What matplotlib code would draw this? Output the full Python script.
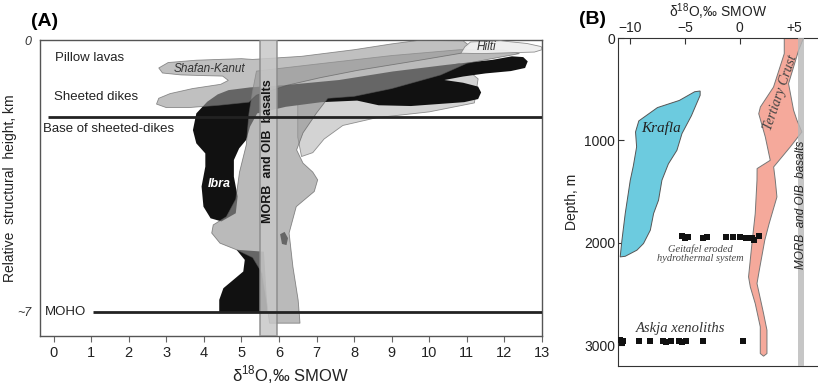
import matplotlib
matplotlib.use('Agg')
import matplotlib.pyplot as plt
from matplotlib.patches import Polygon

plt.rcParams['font.family'] = ['Liberation Sans', 'DejaVu Sans']
plt.rcParams['mathtext.fontset'] = 'custom'
plt.rcParams['mathtext.rm'] = 'Liberation Sans'

# ---------------- panel A data (d18O permil, relative height km) ----------------
morb_a = (5.5, 5.94)
base_dikes_y = 1.98
base_dikes_x0 = -0.14
moho_y = 7.0
moho_x0 = 1.05

ibra_upper = [(4.66, 1.29), (5.23, 1.22), (6.18, 1.16), (7.6, 1.03), (9.03, 0.81), (10.46, 0.64),
              (11.69, 0.51), (12.2, 0.42), (12.5, 0.44), (12.62, 0.55), (12.55, 0.72), (12.17, 0.8),
              (11.5, 0.86), (10.9, 0.94), (10.4, 1.03), (10.9, 1.1), (11.3, 1.2), (11.38, 1.35),
              (11.3, 1.52), (10.93, 1.6), (9.51, 1.7), (8.65, 1.68), (8.08, 1.56), (7.13, 1.6),
              (6.18, 1.72), (5.42, 1.89), (5.23, 2.23), (5.13, 2.57), (4.94, 2.79), (4.8, 3.09),
              (4.8, 3.52), (4.9, 4.03), (4.85, 4.46), (4.47, 4.67), (4.18, 4.59), (3.99, 4.29),
              (3.94, 3.77), (4.04, 3.26), (4.04, 2.92), (3.8, 2.66), (3.71, 2.32), (3.8, 1.89),
              (4.09, 1.59), (4.37, 1.4)]
ibra_lower = [(4.87, 5.4), (5.6, 5.45), (5.7, 7.01), (4.41, 7.01), (4.41, 6.69), (4.52, 6.39),
              (4.78, 6.18), (5.05, 5.96), (5.09, 5.66)]
ibra_blob = [(6.03, 5.0), (6.15, 4.94), (6.24, 5.1), (6.2, 5.28), (6.08, 5.25)]

light_wedge = [(6.5, 1.3), (8.0, 1.15), (9.5, 0.95), (10.8, 0.6), (11.3, 1.0), (11.2, 1.62),
               (10.0, 1.85), (8.6, 2.0), (7.7, 2.2), (7.2, 2.55), (6.9, 2.9), (6.6, 3.0), (6.5, 2.5)]

column = [(5.4, 0.8), (7.0, 0.62), (9.0, 0.4), (10.8, 0.25), (12.0, 0.26), (12.4, 0.35), (11.0, 0.6),
          (10.3, 0.9), (9.0, 1.25), (8.0, 1.45), (7.3, 1.5), (7.0, 1.88), (6.64, 2.39), (6.47, 2.83),
          (6.64, 3.17), (6.9, 3.4), (7.03, 3.6), (6.94, 3.9), (6.46, 4.29), (6.27, 4.97), (6.37, 5.83),
          (6.51, 6.69), (6.56, 7.29), (5.75, 7.29), (5.65, 6.6), (5.55, 6.0), (5.3, 5.6), (4.87, 5.4),
          (4.43, 5.23), (4.21, 4.97), (4.25, 4.76), (4.6, 4.55), (4.85, 4.1), (4.95, 3.4), (5.13, 2.7),
          (5.2, 1.9), (5.3, 1.3)]

shafan_kanut = [(2.8, 0.72), (3.05, 0.58), (3.8, 0.52), (5.0, 0.48), (5.3, 0.5), (6.6, 0.42), (8.0, 0.25),
                (9.0, 0.1), (9.7, 0.01), (10.9, 0.02), (11.05, 0.13), (10.85, 0.34), (9.5, 0.56),
                (8.1, 0.78), (7.1, 0.97), (6.2, 1.17), (5.4, 1.42), (5.2, 1.6), (4.4, 1.68), (3.6, 1.74),
                (3.0, 1.74), (2.74, 1.65), (2.8, 1.5), (3.1, 1.38), (3.7, 1.25), (4.45, 1.14), (4.65, 1.04),
                (4.5, 0.93), (3.4, 0.9), (2.9, 0.85)]

hilti = [(10.84, 0.34), (10.95, 0.17), (11.1, 0.05), (11.9, 0.02), (12.6, 0.09), (12.98, 0.17),
         (13.0, 0.25), (12.8, 0.31), (12.1, 0.33), (11.4, 0.35)]

# ---------------- panel B data (d18O permil, depth m) ----------------
morb_b = (5.3, 5.85)
krafla = [(-3.6, 518), (-4.1, 525), (-5.5, 610), (-7.5, 680), (-9.2, 810), (-9.5, 918), (-9.4, 1064),
          (-9.7, 1250), (-9.98, 1390), (-10.44, 1715), (-10.74, 1975), (-10.9, 2139), (-10.44, 2133),
          (-9.37, 2073), (-8.77, 2008), (-8.15, 1878), (-7.85, 1715), (-7.4, 1585), (-7.09, 1390),
          (-6.5, 1230), (-5.72, 1097), (-5.26, 934), (-4.4, 760), (-3.6, 560)]
tertiary = [(4.08, 0), (4.08, 153), (3.1, 479), (1.9, 674), (1.75, 740), (2.35, 967), (2.8, 1195),
            (1.6, 1276), (1.59, 1390), (1.43, 1715), (1.13, 2008), (0.82, 2334), (0.98, 2432),
            (1.43, 2595), (1.89, 2822), (1.89, 3083), (2.19, 3109), (2.5, 3083), (2.5, 2855),
            (2.19, 2692), (1.59, 2399), (1.8, 2269), (2.3, 1976), (2.7, 1813), (3.41, 1553),
            (3.26, 1390), (3.11, 1260), (4.63, 1064), (5.69, 918), (5.24, 804), (4.93, 706),
            (4.47, 446), (5.39, 120), (5.84, 0)]
geitafel_x = [-5.3, -5.0, -4.75, -3.3, -3.0, -1.2, -0.6, 0.05, 0.6, 1.1, 1.3, 1.75]
geitafel_y = [1930, 1950, 1940, 1955, 1940, 1945, 1945, 1945, 1950, 1955, 1975, 1935]
askja_x = [-10.9, -10.75, -10.6, -9.15, -8.2, -7.0, -6.7, -6.3, -5.5, -5.3, -4.9, -3.3, 0.3]
askja_y = [2955, 2985, 2965, 2965, 2965, 2965, 2975, 2965, 2960, 2970, 2965, 2965, 2960]

xticks_a = list(range(0, 14))
xticks_b = [-10, -5, 0, 5]
xticklabels_b = ['\u221210', '\u22125', '0', '+5']
yticks_b = [0, 1000, 2000, 3000]

xlabel = '\u03b4$^{18}$O,‰ SMOW'

fig = plt.figure(figsize=(8.18, 3.9), dpi=100)

# ================= panel A =================
ax = fig.add_axes([40 / 818, 54 / 390, 502 / 818, 296 / 390])
ax.set_xlim(-0.36, 13)
ax.set_ylim(7.62, 0)

ax.add_patch(Polygon(light_wedge, closed=True, fc='#c8c8c8', ec='#777777', lw=0.6, alpha=0.8, zorder=1))
ax.add_patch(Polygon(ibra_upper, closed=True, fc='#111111', ec='none', zorder=2))
ax.add_patch(Polygon(ibra_lower, closed=True, fc='#111111', ec='none', zorder=2))
ax.add_patch(Polygon(ibra_blob, closed=True, fc='#111111', ec='none', zorder=2))
ax.add_patch(Polygon(column, closed=True, fc='#959595', ec='#555555', lw=0.6, alpha=0.65, zorder=3))
ax.add_patch(Polygon(shafan_kanut, closed=True, fc='#9a9a9a', ec='#555555', lw=0.6, alpha=0.62, zorder=4))
ax.add_patch(Polygon(hilti, closed=True, fc='#eeeeee', ec='#888888', lw=0.6, alpha=0.95, zorder=5))

ax.axvspan(*morb_a, fc='#c8c8c8', ec='#8a8a8a', lw=1.2, alpha=0.85, zorder=6)
ax.text(sum(morb_a) / 2, 2.85, 'MORB  and OIB  basalts', rotation=90, ha='center', va='center',
        fontsize=9, fontweight='bold', color='#151515', zorder=7)

ax.plot([base_dikes_x0, 13], [base_dikes_y, base_dikes_y], color='#222222', lw=2, zorder=8,
        solid_capstyle='butt')
ax.plot([moho_x0, 13], [moho_y, moho_y], color='#222222', lw=2, zorder=8, solid_capstyle='butt')

ax.text(0.05, 0.47, 'Pillow lavas', fontsize=9.5, va='center', color='#222222', zorder=9)
ax.text(0.0, 1.48, 'Sheeted dikes', fontsize=9.5, va='center', color='#222222', zorder=9)
ax.text(-0.28, 2.30, 'Base of sheeted-dikes', fontsize=9.5, va='center', color='#222222', zorder=9)
ax.text(-0.23, 7.0, 'MOHO', fontsize=9.5, va='center', color='#222222', zorder=9)
ax.text(4.16, 0.75, 'Shafan-Kanut', fontsize=8.5, style='italic', ha='center', va='center',
        color='#333333', zorder=9)
ax.text(11.53, 0.17, 'Hilti', fontsize=8.5, style='italic', ha='center', va='center',
        color='#333333', zorder=9)
ax.text(4.42, 3.71, 'Ibra', fontsize=9, style='italic', fontweight='bold', ha='center', va='center',
        color='white', zorder=9)

ax.set_xticks(xticks_a)
ax.tick_params(axis='x', direction='out', length=4, color='#666666', labelsize=10.5,
               labelcolor='#222222', pad=3)
ax.set_yticks([0, 7])
ax.set_yticklabels(['0', '~7'], fontstyle='italic', fontsize=9, color='#333333')
ax.tick_params(axis='y', length=0, pad=6)
for s in ax.spines.values():
    s.set_color('#555555')
    s.set_linewidth(1.0)
ax.set_xlabel(xlabel, fontsize=12, labelpad=3, color='#222222')
ax.set_ylabel('Relative  structural  height, km', fontsize=10, color='#222222')
ax.yaxis.set_label_coords(-0.045, 0.5)
fig.text(45 / 818, 1 - 22 / 390, '(A)', fontsize=14, fontweight='bold', ha='center', va='center')

# ================= panel B =================
bx = fig.add_axes([618 / 818, 24 / 390, 200 / 818, 328 / 390])
bx.set_xlim(-11.1, 7.16)
bx.set_ylim(3205, 0)

bx.add_patch(Polygon(krafla, closed=True, fc='#6ccbdf', ec='#555555', lw=0.7, zorder=2))
bx.add_patch(Polygon(tertiary, closed=True, fc='#f5a99b', ec='#777777', lw=0.7, zorder=2))
bx.axvspan(*morb_b, fc='#b8b8b8', ec='none', alpha=0.8, zorder=3)
bx.scatter(geitafel_x, geitafel_y, marker='s', s=14, color='#111111', zorder=4, linewidths=0)
bx.scatter(askja_x, askja_y, marker='s', s=14, color='#111111', zorder=4, linewidths=0)

serif = ['Liberation Serif', 'DejaVu Serif']
bx.text(-7.18, 885, 'Krafla', family=serif, style='italic', fontsize=11, ha='center', va='center',
        color='#222222', zorder=5)
bx.text(3.75, 530, 'Tertiary Crust', family=serif, style='italic', fontsize=10, rotation=71,
        ha='center', va='center', color='#444444', zorder=5)
bx.text(-3.6, 2110, 'Geitafel eroded\nhydrothermal system', family=serif, style='italic', fontsize=7.5,
        ha='center', va='center', linespacing=0.95, color='#444444', zorder=5)
bx.text(-5.4, 2840, 'Askja xenoliths', family=serif, style='italic', fontsize=10.5, ha='center',
        va='center', color='#333333', zorder=5)
bx.text(5.6, 1630, 'MORB  and OIB  basalts', style='italic', fontsize=8.5, rotation=90,
        ha='center', va='center', color='#222222', zorder=5)

bx.xaxis.tick_top()
bx.xaxis.set_label_position('top')
bx.set_xticks(xticks_b)
bx.set_xticklabels(xticklabels_b)
bx.set_yticks(yticks_b)
bx.tick_params(direction='in', length=4, labelsize=10, color='#333333', labelcolor='#222222', pad=2)
bx.spines['right'].set_visible(False)
for s in ['left', 'top', 'bottom']:
    bx.spines[s].set_color('#333333')
bx.set_xlabel(xlabel, fontsize=10, labelpad=3, color='#222222')
bx.set_ylabel('Depth, m', fontsize=10, labelpad=4, color='#222222')
fig.text(592 / 818, 1 - 20 / 390, '(B)', fontsize=14, fontweight='bold', ha='center', va='center')

fig.savefig('out.png', dpi=100)
